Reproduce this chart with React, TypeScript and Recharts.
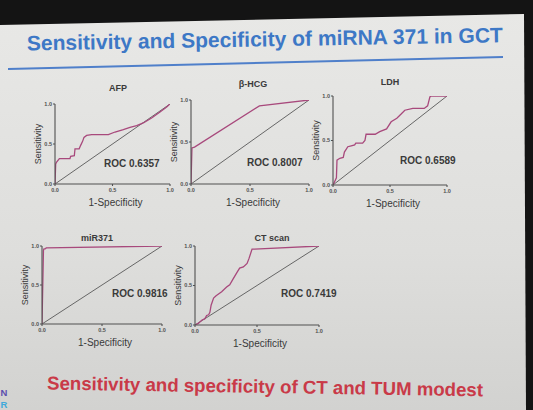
import React from 'react';
import { LineChart, Line, XAxis, YAxis, Label } from 'recharts';

// ---------- data ----------
const AFP_FPR = [0, 0.006, 0.014, 0.038, 0.13, 0.136, 0.168, 0.174, 0.21, 0.223, 0.24, 0.252, 0.275, 0.319, 0.464, 0.522, 0.594, 0.652, 0.71, 0.768, 0.84, 0.913, 0.971, 1];
const AFP_TPR = [0, 0.25, 0.275, 0.317, 0.317, 0.346, 0.354, 0.44, 0.44, 0.483, 0.533, 0.583, 0.608, 0.617, 0.617, 0.65, 0.679, 0.708, 0.729, 0.763, 0.825, 0.9, 0.963, 1];

const HCG_FPR = [0, 0.008, 0.03, 0.58, 1];
const HCG_TPR = [0, 0.43, 0.44, 0.93, 1];

const LDH_FPR = [0, 0.015, 0.03, 0.035, 0.06, 0.09, 0.1, 0.13, 0.16, 0.19, 0.2, 0.26, 0.28, 0.29, 0.37, 0.41, 0.47, 0.51, 0.56, 0.6, 0.63, 0.7, 0.8, 0.83, 0.85, 0.86, 1];
const LDH_TPR = [0, 0.04, 0.08, 0.28, 0.3, 0.31, 0.37, 0.43, 0.44, 0.45, 0.47, 0.47, 0.5, 0.57, 0.57, 0.6, 0.63, 0.71, 0.75, 0.8, 0.84, 0.86, 0.86, 0.89, 0.99, 1, 1];

const MIR_FPR = [0, 0.012, 0.015, 0.03, 0.035, 1];
const MIR_TPR = [0, 0.94, 0.96, 0.965, 0.975, 1];

const CT_FPR = [0, 0.027, 0.054, 0.08, 0.094, 0.11, 0.12, 0.13, 0.15, 0.17, 0.215, 0.255, 0.28, 0.31, 0.34, 0.36, 0.39, 0.42, 0.435, 0.46, 0.48, 1];
const CT_TPR = [0, 0.02, 0.06, 0.08, 0.12, 0.13, 0.16, 0.25, 0.34, 0.37, 0.42, 0.48, 0.51, 0.59, 0.67, 0.72, 0.735, 0.78, 0.84, 0.96, 0.96, 1];

const DIAG_FPR = [0, 1];
const DIAG_TPR = [0, 1];

const AXIS_TICKS = [0, 0.5, 1];
const PANEL_TITLES = ['AFP', 'β-HCG', 'LDH', 'miR371', 'CT scan'];
const ROC_LABELS = ['ROC 0.6357', 'ROC 0.8007', 'ROC 0.6589', 'ROC 0.9816', 'ROC 0.7419'];

const SLIDE_TITLE = 'Sensitivity and Specificity of miRNA 371 in GCT';
const SLIDE_FOOTER = 'Sensitivity and specificity of CT and TUM modest';

const toPoints = (xs: number[], ys: number[]) => xs.map((x, i) => ({ x, y: ys[i] }));

// ---------- layout ----------
const FONT = '"Liberation Sans", Arial, sans-serif';
const ML = 30, MT = 6, MR = 8, MB = 28;

const PANELS = [
  { box: [55, 104, 170, 184], fpr: AFP_FPR, tpr: AFP_TPR, title: [118, 88], roc: [104, 163] },
  { box: [191, 100, 309, 184], fpr: HCG_FPR, tpr: HCG_TPR, title: [253, 84], roc: [247, 162] },
  { box: [333, 96, 447, 185], fpr: LDH_FPR, tpr: LDH_TPR, title: [390, 82], roc: [400, 160] },
  { box: [42, 246, 162, 324], fpr: MIR_FPR, tpr: MIR_TPR, title: [97, 238], roc: [112, 293] },
  { box: [195, 246, 319, 325], fpr: CT_FPR, tpr: CT_TPR, title: [272, 238], roc: [281, 293] },
];

const fmt = (v: number) => v.toFixed(1);

function Panel({ box, fpr, tpr }: { box: number[]; fpr: number[]; tpr: number[] }) {
  const [x0, yTop, x1, y0] = box;
  const w = x1 - x0 + ML + MR;
  const h = y0 - yTop + MT + MB;
  return (
    <div style={{ position: 'absolute', left: x0 - ML, top: yTop - MT, width: w, height: h }}>
      <LineChart width={w} height={h} margin={{ top: MT, right: MR, left: 0, bottom: 0 }}>
        <XAxis
          dataKey="x"
          type="number"
          domain={[0, 1]}
          ticks={AXIS_TICKS}
          tickFormatter={fmt}
          height={MB}
          tickSize={2}
          tickMargin={2}
          stroke="#505050"
          strokeWidth={1.1}
          tick={{ fontSize: 5.5, fill: '#505050', fontFamily: FONT, fontWeight: 700 }}
          allowDataOverflow
        >
          <Label value="1-Specificity" position="center" dy={4} dx={3} fontSize={10} fill="#3a3a3a" fontFamily={FONT} />
        </XAxis>
        <YAxis
          dataKey="y"
          type="number"
          domain={[0, 1]}
          ticks={AXIS_TICKS}
          tickFormatter={fmt}
          width={ML}
          tickSize={2}
          tickMargin={1}
          stroke="#505050"
          strokeWidth={1.1}
          tick={{ fontSize: 5.5, fill: '#505050', fontFamily: FONT, fontWeight: 700 }}
          allowDataOverflow
        >
          <Label value="Sensitivity" position="center" angle={-90} dx={-2} fontSize={9} fill="#3a3a3a" fontFamily={FONT} />
        </YAxis>
        <Line
          data={toPoints(DIAG_FPR, DIAG_TPR)}
          dataKey="y"
          type="linear"
          stroke="#666666"
          strokeWidth={1}
          dot={false}
          isAnimationActive={false}
        />
        <Line
          data={toPoints(fpr, tpr)}
          dataKey="y"
          type="linear"
          stroke="#a8497c"
          strokeWidth={1.3}
          dot={false}
          isAnimationActive={false}
        />
      </LineChart>
    </div>
  );
}

export default function App() {
  return (
    <div style={{ position: 'absolute', left: 0, top: 0, width: 533, height: 410, overflow: 'hidden' }}>
      <svg width={533} height={410} style={{ position: 'absolute', left: 0, top: 0 }}>
        <defs>
          <linearGradient id="slideBg" x1="0" y1="0" x2="0" y2="1">
            <stop offset="0" stopColor="#e8e8e6" />
            <stop offset="0.6" stopColor="#dededc" />
            <stop offset="1" stopColor="#d2d2d0" />
          </linearGradient>
        </defs>
        <rect x={0} y={0} width={533} height={410} fill="#141414" />
        <polygon points="0,25 524,14 526,410 0,410" fill="url(#slideBg)" />
        <text
          x={27}
          y={50.5}
          transform="rotate(-1 27 50.5)"
          fontFamily={FONT}
          fontWeight={700}
          fontSize={21}
          fill="#3d78c6"
          textLength={476}
          lengthAdjust="spacingAndGlyphs"
        >
          {SLIDE_TITLE}
        </text>
        <line x1={8} y1={69} x2={503} y2={57} stroke="#4f7fca" strokeWidth={2} />
        <text
          x={47}
          y={389.5}
          transform="rotate(0.9 47 389.5)"
          fontFamily={FONT}
          fontWeight={700}
          fontSize={18.6}
          fill="#c93a48"
          textLength={436}
          lengthAdjust="spacingAndGlyphs"
        >
          {SLIDE_FOOTER}
        </text>
        <text x={0.5} y={396} fontFamily={FONT} fontWeight={700} fontSize={9.5} fill="#5b4fae">N</text>
        <text x={0.5} y={408} fontFamily={FONT} fontWeight={700} fontSize={9.5} fill="#3fa9db">R</text>
        {PANELS.map((p, i) => (
          <g key={i}>
            <text
              x={p.title[0]}
              y={p.title[1]}
              textAnchor="middle"
              dominantBaseline="central"
              fontFamily={FONT}
              fontWeight={700}
              fontSize={9}
              fill="#3a3a3a"
            >
              {PANEL_TITLES[i]}
            </text>
            <text
              x={p.roc[0]}
              y={p.roc[1]}
              dominantBaseline="central"
              fontFamily={FONT}
              fontWeight={700}
              fontSize={10}
              fill="#3a3a3a"
            >
              {ROC_LABELS[i]}
            </text>
          </g>
        ))}
      </svg>
      {PANELS.map((p, i) => (
        <Panel key={i} box={p.box} fpr={p.fpr} tpr={p.tpr} />
      ))}
    </div>
  );
}
